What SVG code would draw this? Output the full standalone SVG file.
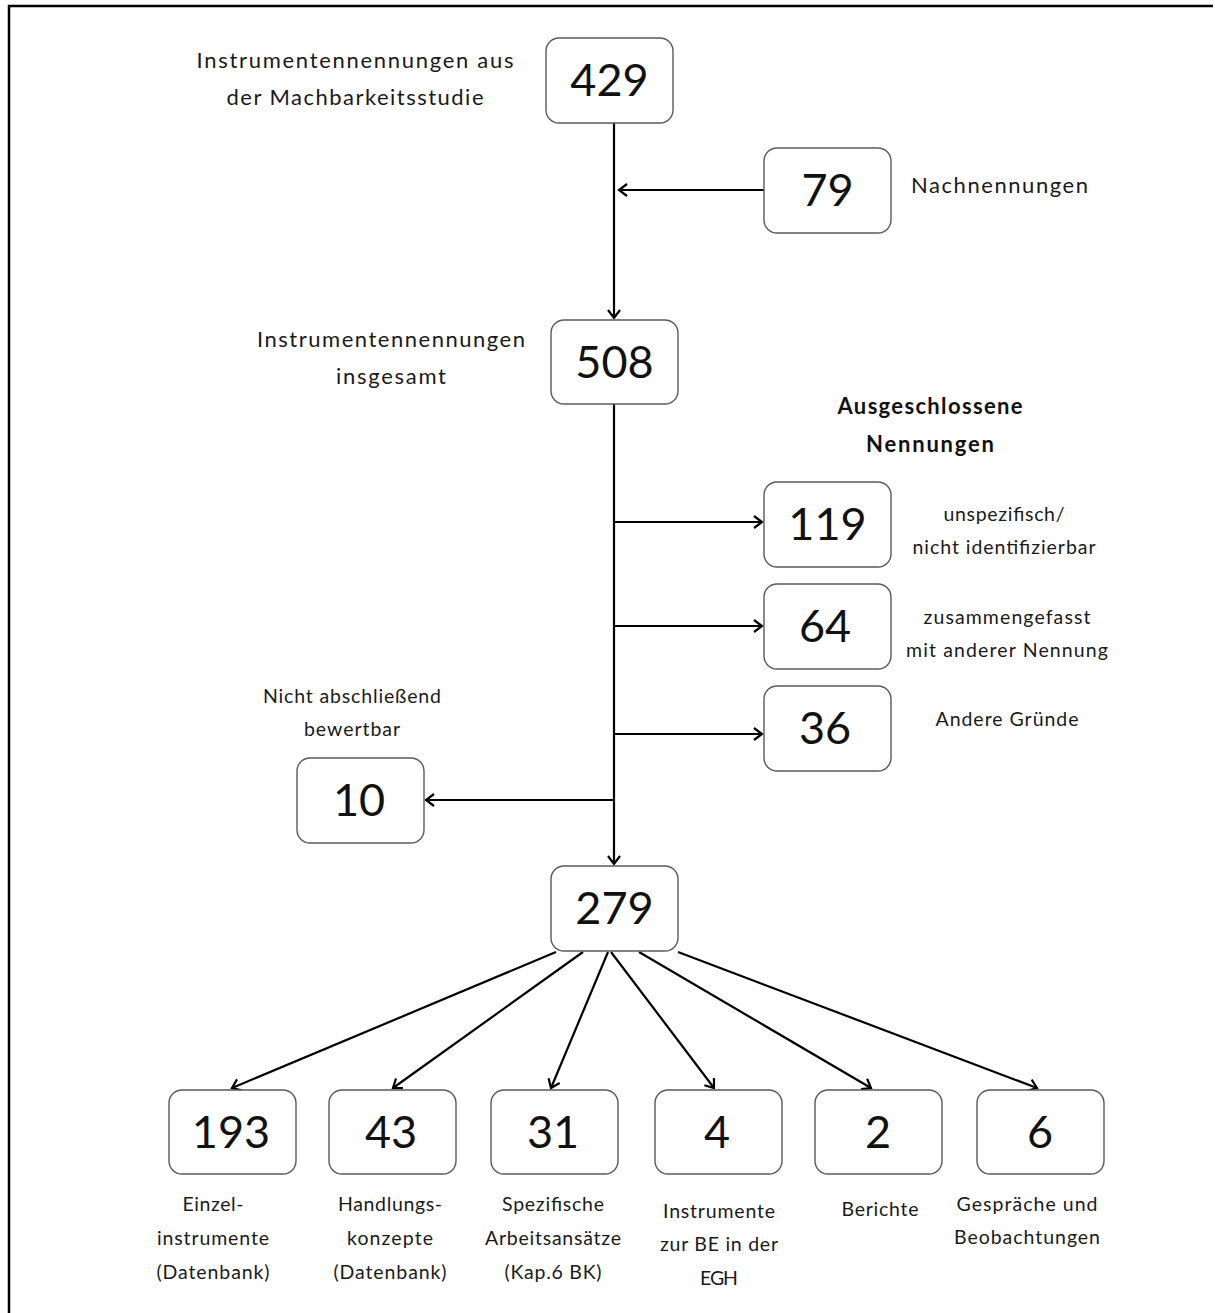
<svg xmlns="http://www.w3.org/2000/svg" width="1215" height="1313" viewBox="0 0 1215 1313">
  <style>
    .box { fill: #ffffff; stroke: #5a5a5a; stroke-width: 1.4; }
    .num { font-family: Lato, "Open Sans", sans-serif; font-size: 45px; fill: #111; text-anchor: middle; }
    .lbl { font-family: Lato, "Open Sans", sans-serif; font-size: 22px; fill: #1a1a1a; text-anchor: middle; }
    .sm  { font-family: Lato, "Open Sans", sans-serif; font-size: 19.5px; fill: #1a1a1a; text-anchor: middle; }
    .hd  { font-family: Lato, "Open Sans", sans-serif; font-size: 22px; font-weight: bold; fill: #111; text-anchor: middle; }
    .ln  { fill: none; stroke: #000; stroke-width: 2.2; }
    .frame { fill: none; stroke: #000; stroke-width: 2.5; }
  </style>
  <defs>
    <marker id="arr" markerUnits="userSpaceOnUse" markerWidth="20" markerHeight="20" viewBox="-12 -10 14 20" refX="0" refY="0" orient="auto">
      <path d="M-8,-6 L0,0 L-8,6" fill="none" stroke="#000" stroke-width="2.2"/>
    </marker>
  </defs>

  <rect x="0" y="0" width="1215" height="1313" fill="#ffffff"/>
  <!-- page frame -->
  <path class="frame" d="M9,1313 V6 H1213"/>

  <!-- connectors -->
  <g id="connectors">
    <line class="ln" x1="614" y1="123" x2="614" y2="318" marker-end="url(#arr)"/>
    <line class="ln" x1="764" y1="190" x2="619" y2="190" marker-end="url(#arr)"/>
    <line class="ln" x1="614" y1="404" x2="614" y2="864" marker-end="url(#arr)"/>
    <line class="ln" x1="614" y1="522" x2="762" y2="522" marker-end="url(#arr)"/>
    <line class="ln" x1="614" y1="626" x2="762" y2="626" marker-end="url(#arr)"/>
    <line class="ln" x1="614" y1="734" x2="762" y2="734" marker-end="url(#arr)"/>
    <line class="ln" x1="614" y1="800" x2="426" y2="800" marker-end="url(#arr)"/>
    <line class="ln" x1="556" y1="952" x2="232" y2="1088" marker-end="url(#arr)"/>
    <line class="ln" x1="583" y1="952" x2="393" y2="1088" marker-end="url(#arr)"/>
    <line class="ln" x1="608" y1="952" x2="551" y2="1088" marker-end="url(#arr)"/>
    <line class="ln" x1="611" y1="952" x2="714" y2="1088" marker-end="url(#arr)"/>
    <line class="ln" x1="639" y1="952" x2="871" y2="1088" marker-end="url(#arr)"/>
    <line class="ln" x1="678" y1="952" x2="1037" y2="1088" marker-end="url(#arr)"/>
  </g>

  <!-- nodes -->
  <g id="n429">
    <rect class="box" x="546" y="38" width="127" height="85" rx="13"/>
    <text class="num" x="609.5" y="96">429</text>
    <text class="lbl" x="355" y="68" textLength="317" lengthAdjust="spacing">Instrumentennennungen  aus</text>
    <text class="lbl" x="355" y="105" textLength="257" lengthAdjust="spacing">der Machbarkeitsstudie</text>
  </g>
  <g id="n79">
    <rect class="box" x="764" y="148" width="127" height="85" rx="13"/>
    <text class="num" x="827.5" y="206">79</text>
    <text class="lbl" x="999.5" y="193" textLength="177" lengthAdjust="spacing">Nachnennungen</text>
  </g>
  <g id="n508">
    <rect class="box" x="551" y="320" width="127" height="84" rx="13"/>
    <text class="num" x="614.5" y="378">508</text>
    <text class="lbl" x="391" y="347" textLength="268" lengthAdjust="spacing">Instrumentennennungen</text>
    <text class="lbl" x="391" y="384" textLength="110" lengthAdjust="spacing">insgesamt</text>
  </g>
  <g id="excluded-heading">
    <text class="hd" x="930" y="414" textLength="185" lengthAdjust="spacing">Ausgeschlossene</text>
    <text class="hd" x="930" y="452" textLength="128" lengthAdjust="spacing">Nennungen</text>
  </g>
  <g id="n119">
    <rect class="box" x="764" y="482" width="127" height="85" rx="13"/>
    <text class="num" x="827.5" y="540">119</text>
    <text class="sm" x="1004" y="521" textLength="121" lengthAdjust="spacing">unspezifisch/</text>
    <text class="sm" x="1004" y="554" textLength="183" lengthAdjust="spacing">nicht identifizierbar</text>
  </g>
  <g id="n64">
    <rect class="box" x="764" y="584" width="127" height="85" rx="13"/>
    <text class="num" x="825" y="642">64</text>
    <text class="sm" x="1007" y="624" textLength="167" lengthAdjust="spacing">zusammengefasst</text>
    <text class="sm" x="1007" y="657" textLength="202" lengthAdjust="spacing">mit anderer  Nennung</text>
  </g>
  <g id="n36">
    <rect class="box" x="764" y="686" width="127" height="85" rx="13"/>
    <text class="num" x="825" y="744">36</text>
    <text class="sm" x="1007" y="726" textLength="143" lengthAdjust="spacing">Andere  Gründe</text>
  </g>
  <g id="n10">
    <rect class="box" x="297" y="758" width="127" height="85" rx="13"/>
    <text class="num" x="359" y="816">10</text>
    <text class="sm" x="352" y="703" textLength="178" lengthAdjust="spacing">Nicht abschließend</text>
    <text class="sm" x="352" y="736" textLength="96" lengthAdjust="spacing">bewertbar</text>
  </g>
  <g id="n279">
    <rect class="box" x="551" y="866" width="127" height="85" rx="13"/>
    <text class="num" x="614.5" y="924">279</text>
  </g>

  <g id="n193">
    <rect class="box" x="169" y="1090" width="127" height="84" rx="13"/>
    <text class="num" x="231" y="1148">193</text>
    <text class="sm" x="213" y="1211" textLength="61" lengthAdjust="spacing">Einzel-</text>
    <text class="sm" x="213" y="1245" textLength="112" lengthAdjust="spacing">instrumente</text>
    <text class="sm" x="213" y="1279" textLength="113" lengthAdjust="spacing">(Datenbank)</text>
  </g>
  <g id="n43">
    <rect class="box" x="329" y="1090" width="127" height="84" rx="13"/>
    <text class="num" x="391" y="1148">43</text>
    <text class="sm" x="390" y="1211" textLength="104" lengthAdjust="spacing">Handlungs-</text>
    <text class="sm" x="390" y="1245" textLength="86" lengthAdjust="spacing">konzepte</text>
    <text class="sm" x="390" y="1279" textLength="113" lengthAdjust="spacing">(Datenbank)</text>
  </g>
  <g id="n31">
    <rect class="box" x="491" y="1090" width="127" height="84" rx="13"/>
    <text class="num" x="553" y="1148">31</text>
    <text class="sm" x="553" y="1211" textLength="102" lengthAdjust="spacing">Spezifische</text>
    <text class="sm" x="553" y="1245" textLength="136" lengthAdjust="spacing">Arbeitsansätze</text>
    <text class="sm" x="553" y="1279" textLength="97" lengthAdjust="spacing">(Kap.6  BK)</text>
  </g>
  <g id="n4">
    <rect class="box" x="655" y="1090" width="127" height="84" rx="13"/>
    <text class="num" x="717" y="1148">4</text>
    <text class="sm" x="719" y="1218" textLength="112" lengthAdjust="spacing">Instrumente</text>
    <text class="sm" x="719" y="1251" textLength="118" lengthAdjust="spacing">zur  BE in der</text>
    <text class="sm" x="719" y="1285" textLength="38" lengthAdjust="spacing">EGH</text>
  </g>
  <g id="n2">
    <rect class="box" x="815" y="1090" width="127" height="84" rx="13"/>
    <text class="num" x="878" y="1148">2</text>
    <text class="sm" x="880" y="1216" textLength="77" lengthAdjust="spacing">Berichte</text>
  </g>
  <g id="n6">
    <rect class="box" x="977" y="1090" width="127" height="84" rx="13"/>
    <text class="num" x="1040" y="1148">6</text>
    <text class="sm" x="1027" y="1211" textLength="141" lengthAdjust="spacing">Gespräche  und</text>
    <text class="sm" x="1027" y="1244" textLength="146" lengthAdjust="spacing">Beobachtungen</text>
  </g>
</svg>
